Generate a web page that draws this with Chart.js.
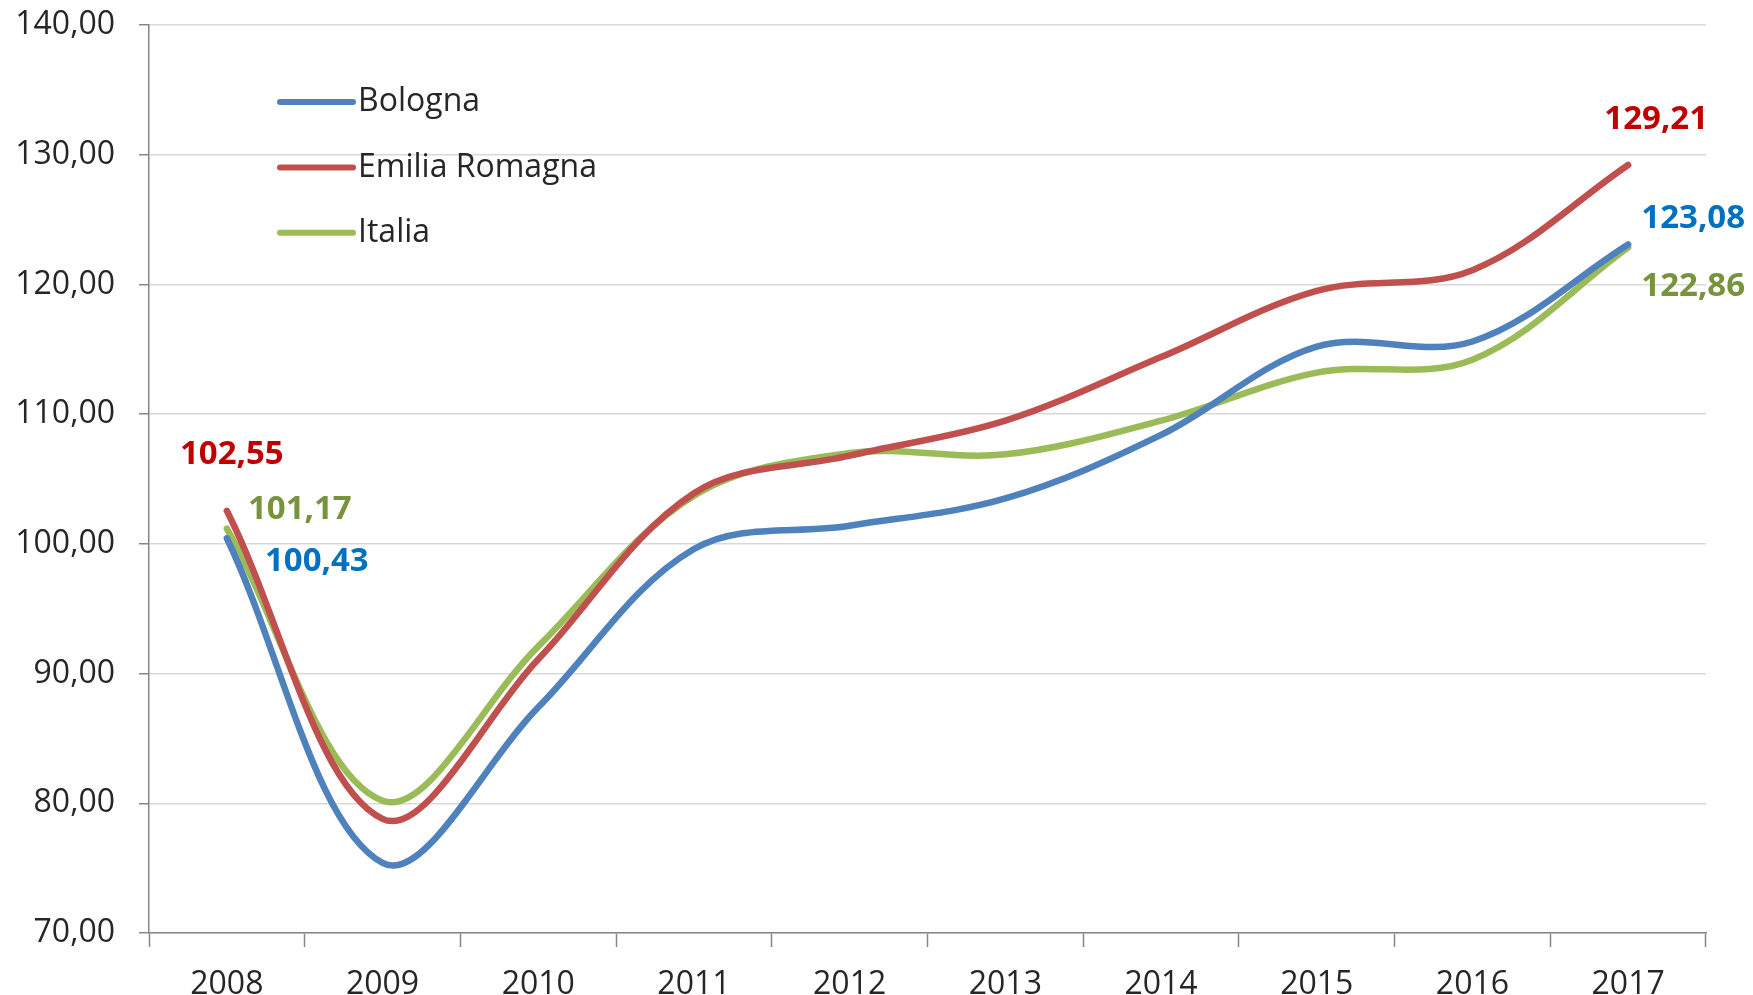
<!DOCTYPE html>
<html>
<head>
<meta charset="utf-8">
<script src="https://cdn.jsdelivr.net/npm/chart.js@4.4.0/dist/chart.umd.min.js"></script>
<style>
  body { margin: 0; background: #ffffff; }
  canvas { display: block; }
</style>
</head>
<body>
<canvas id="line-graph" width="1753" height="995"></canvas>
<script>
const years = ['2008', '2009', '2010', '2011', '2012', '2013', '2014', '2015', '2016', '2017'];
const bologna = [100.43, 75.4, 87.4, 99.6, 101.4, 103.5, 108.4, 115.2, 115.6, 123.08];
const emiliaRomagna = [102.55, 78.8, 91.1, 103.9, 106.8, 109.5, 114.4, 119.5, 121.1, 129.21];
const italia = [101.17, 80.2, 92.1, 103.7, 107.0, 106.9, 109.5, 113.2, 114.2, 122.86];
const yMin = 70;
const yMax = 140;
const yStep = 10;

const FONT = "'Open Sans', 'Noto Sans', sans-serif";
const TEXT = '#262626';

const fmt = (v) => v.toFixed(2).replace('.', ',');

// labels on first and last point, offset in px from the point
const endLabels = [
	{color: '#0070C0', offsets: [[90, 23], [65, -26]]},
	{color: '#C00000', offsets: [[5, -56], [28, -45]]},
	{color: '#77933C', offsets: [[73, -19], [65, 39]]}
];

const endLabelPlugin = {
	id: 'endLabels',
	afterDatasetsDraw(chart) {
		const ctx = chart.ctx;
		ctx.save();
		ctx.font = 'bold 33px ' + FONT;
		ctx.textAlign = 'center';
		ctx.textBaseline = 'middle';
		chart.data.datasets.forEach((ds, i) => {
			const meta = chart.getDatasetMeta(i);
			const last = ds.data.length - 1;
			[0, last].forEach((idx, k) => {
				const pt = meta.data[idx];
				const off = endLabels[i].offsets[k];
				ctx.fillStyle = endLabels[i].color;
				ctx.fillText(fmt(ds.data[idx]), pt.x + off[0], pt.y + off[1]);
			});
		});
		ctx.restore();
	}
};

const legendPlugin = {
	id: 'insideLegend',
	afterDraw(chart) {
		const ctx = chart.ctx;
		const area = chart.chartArea;
		ctx.save();
		ctx.font = '32px ' + FONT;
		ctx.textBaseline = 'middle';
		ctx.lineCap = 'round';
		chart.data.datasets.forEach((ds, i) => {
			const y = area.top + 77 + i * 65.4;
			ctx.strokeStyle = ds.borderColor;
			ctx.lineWidth = 6;
			ctx.beginPath();
			ctx.moveTo(area.left + 131, y);
			ctx.lineTo(area.left + 204, y);
			ctx.stroke();
			ctx.fillStyle = TEXT;
			ctx.fillText(ds.label, area.left + 209, y);
		});
		ctx.restore();
	}
};

function makeDataSet(label, data, color) {
	return {
		label: label,
		data: data,
		borderColor: color,
		backgroundColor: color,
		borderWidth: 6.5,
		borderCapStyle: 'round',
		pointRadius: 0,
		tension: 0.35,
		fill: false
	};
}

const ctx = document.getElementById('line-graph').getContext('2d');

new Chart(ctx, {
	type: 'line',
	data: {
		labels: years,
		datasets: [
			makeDataSet('Bologna', bologna, '#4F81BD'),
			makeDataSet('Emilia Romagna', emiliaRomagna, '#C0504D'),
			makeDataSet('Italia', italia, '#9BBB59')
		]
	},
	options: {
		responsive: false,
		animation: false,
		layout: {
			padding: {top: 25, right: 47, bottom: 0, left: 0}
		},
		plugins: {
			legend: {display: false},
			tooltip: {enabled: false}
		},
		scales: {
			x: {
				offset: true,
				grid: {
					offset: true,
					drawOnChartArea: false,
					tickLength: 14,
					tickColor: '#868686',
					tickWidth: 1.5
				},
				border: {color: '#868686', width: 1.5},
				ticks: {
					color: TEXT,
					font: {family: FONT, size: 32},
					padding: 19,
					maxRotation: 0
				},
				afterFit: (s) => { s.height = 62; }
			},
			y: {
				min: yMin,
				max: yMax,
				ticks: {
					stepSize: yStep,
					color: TEXT,
					font: {family: FONT, size: 32},
					padding: 24,
					callback: (v) => fmt(v)
				},
				grid: {
					color: '#D9D9D9',
					lineWidth: 1.5,
					tickLength: 10,
					tickColor: '#868686'
				},
				border: {color: '#868686', width: 1.5},
				afterFit: (s) => {
					s.width = 149;
					s.paddingTop = 0;
					s.paddingBottom = 0;
				}
			}
		}
	},
	plugins: [endLabelPlugin, legendPlugin]
});
</script>
</body>
</html>
